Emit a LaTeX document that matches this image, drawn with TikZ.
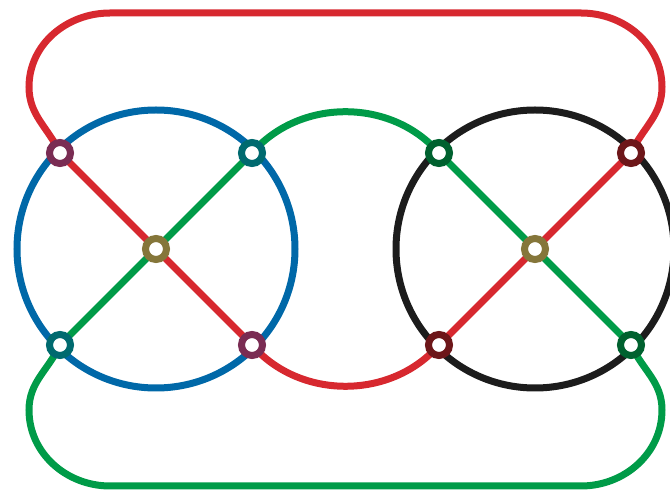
\documentclass[tikz,border=0pt]{standalone}
\usetikzlibrary{backgrounds}
\definecolor{cred}{HTML}{D7282F}
\definecolor{cblue}{HTML}{0068A8}
\definecolor{cgreen}{HTML}{009B48}
\definecolor{cblack}{HTML}{1C1C1C}
\definecolor{rpurple}{HTML}{7A2C53}
\definecolor{rteal}{HTML}{006A6F}
\definecolor{rolive}{HTML}{85763A}
\definecolor{rdgreen}{HTML}{00612F}
\definecolor{rdred}{HTML}{6D1619}
\tikzset{
  ring/.style={circle, draw=#1, fill=white, line width=7pt, minimum size=21pt, inner sep=0pt},
  track/.style={draw=#1, line width=7pt},
}
\begin{document}
\begin{tikzpicture}[x=1pt,y=1pt]
\useasboundingbox (0,0) rectangle (670,490);
% nodes
\node[ring=rolive] (B) at (156,241) {};
\node[ring=rolive] (K) at (535,241) {};
\node[ring=rpurple] (a1) at (60,337) {};
\node[ring=rteal] (a2) at (252,337) {};
\node[ring=rteal] (a3) at (60,145) {};
\node[ring=rpurple] (a4) at (252,145) {};
\node[ring=rdgreen] (c1) at (439,337) {};
\node[ring=rdred] (c2) at (631,337) {};
\node[ring=rdred] (c3) at (439,145) {};
\node[ring=rdgreen] (c4) at (631,145) {};
\coordinate (rl) at (29,403);
\coordinate (rtl) at (110,477);
\coordinate (rtr) at (581,477);
\coordinate (rr) at (662,403);
\coordinate (gl) at (29,80);
\coordinate (gbl) at (110,4);
\coordinate (gbr) at (581,4);
\coordinate (gr) at (662,80);
\begin{pgfonlayer}{background}
% circles
\draw[track=cblue] (B.center) circle (139);
\draw[track=cblack] (K.center) circle (139);
% diagonals
\draw[track=cred] (a1.center) -- (B.center) -- (a4.center);
\draw[track=cgreen] (a3.center) -- (B.center) -- (a2.center);
\draw[track=cgreen] (c1.center) -- (K.center) -- (c4.center);
\draw[track=cred] (c3.center) -- (K.center) -- (c2.center);
% middle arcs
\draw[track=cgreen] (a2.center) to[out=49,in=131] (c1.center);
\draw[track=cred] (a4.center) to[out=-49,in=-131] (c3.center);
% outer loops
\draw[track=cred] (a1.center) to[out=115,in=-90] (rl) to[out=90,in=180] (rtl)
  -- (rtr) to[out=0,in=90] (rr) to[out=-90,in=65] (c2.center);
\draw[track=cgreen] (a3.center) to[out=-115,in=90] (gl) to[out=-90,in=180] (gbl)
  -- (gbr) to[out=0,in=-90] (gr) to[out=90,in=-65] (c4.center);
\end{pgfonlayer}
\end{tikzpicture}
\end{document}
